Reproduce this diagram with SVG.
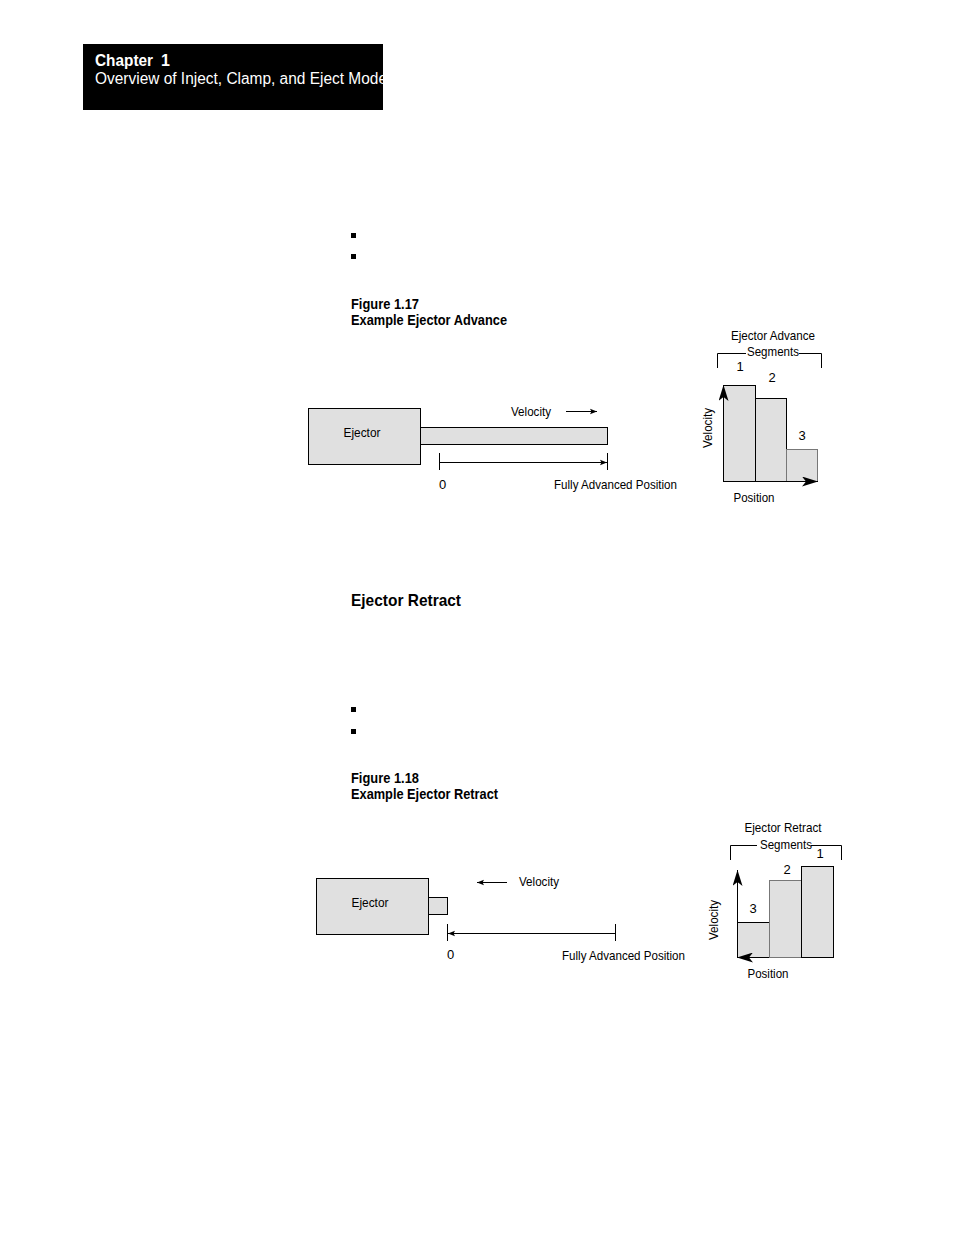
<svg xmlns="http://www.w3.org/2000/svg" width="954" height="1235" viewBox="0 0 954 1235">
<style>
text{font-family:"Liberation Sans",Arial,sans-serif;fill:#000}
.t{font-size:13px}
.b{font-weight:bold}
.box{fill:#e0e0e0;stroke:#000;stroke-width:1}
.ln{stroke:#000;stroke-width:1;fill:none}
</style>
<defs>
<marker id="ah" viewBox="0 0 10 10" refX="10" refY="5" markerWidth="11" markerHeight="7" orient="auto" markerUnits="userSpaceOnUse"><path d="M0,1 L10,5 L0,9 L2,5 Z" fill="#000"/></marker>
<marker id="ahb" viewBox="0 0 16 10" refX="16" refY="5" markerWidth="18" markerHeight="10" orient="auto" markerUnits="userSpaceOnUse"><path d="M0,0 L16,5 L0,10 L4,5 Z" fill="#000"/></marker>
<clipPath id="hc"><rect x="83" y="44" width="300" height="66"/></clipPath>
</defs>
<rect width="954" height="1235" fill="#fff"/>
<g id="header">
<rect x="83" y="44" width="300" height="66" fill="#000"/>
<g clip-path="url(#hc)">
<text x="95" y="66" font-size="16" font-weight="bold" style="fill:#fff"><tspan textLength="58" lengthAdjust="spacingAndGlyphs">Chapter</tspan><tspan x="161">1</tspan></text>
<text x="95" y="84" font-size="16" style="fill:#fff" textLength="292" lengthAdjust="spacingAndGlyphs">Overview of Inject, Clamp, and Eject Mode</text>
</g>
</g>
<g id="bullets">
<rect x="351" y="233" width="5" height="5"/>
<rect x="351" y="254" width="5" height="5"/>
<rect x="351" y="707" width="5" height="5"/>
<rect x="351" y="729" width="5" height="5"/>
</g>
<g id="captions">
<text x="351" y="309" font-size="14" class="b" textLength="68" lengthAdjust="spacingAndGlyphs">Figure 1.17</text>
<text x="351" y="325" font-size="14" class="b" textLength="156" lengthAdjust="spacingAndGlyphs">Example Ejector Advance</text>
<text x="351" y="606" font-size="17" class="b" textLength="110" lengthAdjust="spacingAndGlyphs">Ejector Retract</text>
<text x="351" y="783" font-size="14" class="b" textLength="68" lengthAdjust="spacingAndGlyphs">Figure 1.18</text>
<text x="351" y="799" font-size="14" class="b" textLength="147" lengthAdjust="spacingAndGlyphs">Example Ejector Retract</text>
</g>
<g id="ejector1">
<rect class="box" x="308.5" y="408.5" width="112" height="56"/>
<text class="t" x="362" y="437" text-anchor="middle" textLength="37" lengthAdjust="spacingAndGlyphs">Ejector</text>
</g>
<g id="rod1">
<rect class="box" x="420.5" y="427.5" width="187" height="17"/>
</g>
<g id="labels1">
<text class="t" x="511" y="416" textLength="40" lengthAdjust="spacingAndGlyphs">Velocity</text>
<text class="t" x="439" y="489">0</text>
<text class="t" x="554" y="489" textLength="123" lengthAdjust="spacingAndGlyphs">Fully Advanced Position</text>
</g>
<g id="chart1">
<text class="t" x="773" y="340" text-anchor="middle" textLength="84" lengthAdjust="spacingAndGlyphs">Ejector Advance</text>
<text class="t" x="773" y="356" text-anchor="middle" textLength="52" lengthAdjust="spacingAndGlyphs">Segments</text>
<path class="ln" d="M717.5,368 V353.5 H746 M799,353.5 H821.5 V368"/>
<rect class="box" x="723.5" y="385.5" width="32" height="96"/>
<rect class="box" x="755.5" y="398.5" width="31" height="83"/>
<rect x="786.5" y="449.5" width="31" height="32" fill="#e0e0e0" stroke="#777"/>
<text class="t" x="740" y="371" text-anchor="middle">1</text>
<text class="t" x="772" y="382" text-anchor="middle">2</text>
<text class="t" x="802" y="440" text-anchor="middle">3</text>
<text class="t" transform="translate(712,428) rotate(-90)" text-anchor="middle" textLength="40" lengthAdjust="spacingAndGlyphs">Velocity</text>
<text class="t" x="754" y="502" text-anchor="middle" textLength="41" lengthAdjust="spacingAndGlyphs">Position</text>
</g>
<g id="ejector2">
<rect class="box" x="316.5" y="878.5" width="112" height="56"/>
<text class="t" x="370" y="907" text-anchor="middle" textLength="37" lengthAdjust="spacingAndGlyphs">Ejector</text>
</g>
<g id="rod2">
<rect class="box" x="428.5" y="897.5" width="19" height="17"/>
</g>
<g id="labels2">
<text class="t" x="519" y="886" textLength="40" lengthAdjust="spacingAndGlyphs">Velocity</text>
<text class="t" x="447" y="959">0</text>
<text class="t" x="562" y="960" textLength="123" lengthAdjust="spacingAndGlyphs">Fully Advanced Position</text>
</g>
<g id="chart2">
<text class="t" x="783" y="832" text-anchor="middle" textLength="77" lengthAdjust="spacingAndGlyphs">Ejector Retract</text>
<text class="t" x="786" y="849" text-anchor="middle" textLength="52" lengthAdjust="spacingAndGlyphs">Segments</text>
<path class="ln" d="M730.5,860 V845.5 H757 M811,845.5 H841.5 V860"/>
<rect class="box" x="737.5" y="922.5" width="32" height="35"/>
<rect x="769.5" y="880.5" width="32" height="77" fill="#e0e0e0" stroke="#777"/>
<rect class="box" x="801.5" y="866.5" width="32" height="91"/>
<text class="t" x="753" y="913" text-anchor="middle">3</text>
<text class="t" x="787" y="874" text-anchor="middle">2</text>
<text class="t" x="820" y="858" text-anchor="middle">1</text>
<text class="t" transform="translate(718,920) rotate(-90)" text-anchor="middle" textLength="40" lengthAdjust="spacingAndGlyphs">Velocity</text>
<text class="t" x="768" y="978" text-anchor="middle" textLength="41" lengthAdjust="spacingAndGlyphs">Position</text>
</g>
<g id="connectors">
<line class="ln" x1="566" y1="411.5" x2="597" y2="411.5" marker-end="url(#ah)"/>
<line class="ln" x1="439.5" y1="453" x2="439.5" y2="470"/>
<line class="ln" x1="607.5" y1="453" x2="607.5" y2="470"/>
<line class="ln" x1="439.5" y1="462.5" x2="607" y2="462.5" marker-end="url(#ah)"/>
<line class="ln" x1="723.5" y1="481" x2="723.5" y2="385" marker-end="url(#ahb)"/>
<line class="ln" x1="723.5" y1="481.5" x2="818" y2="481.5" marker-end="url(#ahb)"/>
<line class="ln" x1="507" y1="882.5" x2="477" y2="882.5" marker-end="url(#ah)"/>
<line class="ln" x1="447.5" y1="924" x2="447.5" y2="941"/>
<line class="ln" x1="615.5" y1="924" x2="615.5" y2="941"/>
<line class="ln" x1="615.5" y1="933.5" x2="448" y2="933.5" marker-end="url(#ah)"/>
<line class="ln" x1="737.5" y1="922" x2="737.5" y2="870" marker-end="url(#ahb)"/>
<line class="ln" x1="769" y1="957.5" x2="737" y2="957.5" marker-end="url(#ahb)"/>
</g>
</svg>
